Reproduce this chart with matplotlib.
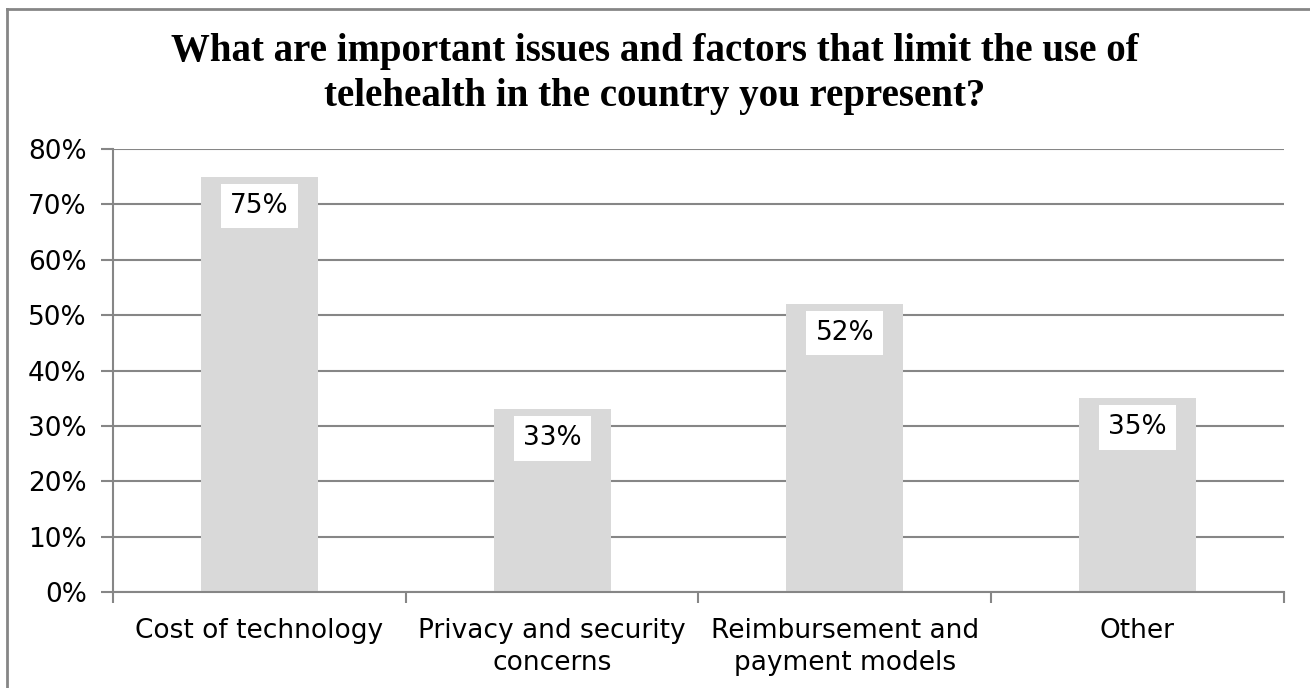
import matplotlib.pyplot as plt
import numpy as np
from matplotlib.lines import Line2D

# Chart data
categories = ["Cost of technology", "Privacy and security\nconcerns",
              "Reimbursement and\npayment models", "Other"]
values = [75, 33, 52, 35]
y_ticks = [0, 10, 20, 30, 40, 50, 60, 70, 80]
title = ("What are important issues and factors that limit the use of\n"
         "telehealth in the country you represent?")

GRID = "#868686"
BAR = "#D9D9D9"

fig = plt.figure(figsize=(13.1, 6.88), dpi=100)
ax = fig.add_axes([0.0863, 0.1395, 0.8937, 0.6439])

x = np.arange(len(categories))
bars = ax.bar(x, values, width=0.4, color=BAR, zorder=2)

ax.set_xlim(-0.5, len(categories) - 0.5)
ax.set_ylim(0, 80)
ax.set_yticks(y_ticks)
ax.set_yticklabels([f"{v}%" for v in y_ticks])
ax.yaxis.grid(True, color=GRID, linewidth=1.5, zorder=0)
ax.set_axisbelow(True)

# category labels at centers, tick marks at boundaries
ax.set_xticks(x)
ax.set_xticklabels(categories, fontsize=19, linespacing=1.3)
ax.set_xticks(np.arange(-0.5, len(categories)), minor=True)
ax.tick_params(axis="x", which="major", length=0, pad=19)
ax.tick_params(axis="x", which="minor", length=8, width=1.5, color=GRID)
ax.tick_params(axis="y", length=9, width=1.5, color=GRID, labelsize=19, pad=10)

for side in ["top", "right"]:
    ax.spines[side].set_visible(False)
for side in ["left", "bottom"]:
    ax.spines[side].set_color(GRID)
    ax.spines[side].set_linewidth(1.5)

# data labels in white boxes
for rect, v in zip(bars, values):
    ax.annotate(f"{v}%", (rect.get_x() + rect.get_width() / 2, v),
                xytext=(0, -21), textcoords="offset points",
                ha="center", va="center", fontsize=19, zorder=3,
                bbox=dict(boxstyle="square,pad=0.35", fc="white", ec="none"))

fig.text(0.5, 0.8926, title, ha="center", va="center", fontsize=28,
         fontweight="bold", family="Liberation Serif", linespacing=1.3)

# outer border (only left and top fall inside the image)
fig.add_artist(Line2D([0.0057, 0.0057], [0, 0.987], transform=fig.transFigure,
                      color=GRID, linewidth=2))
fig.add_artist(Line2D([0.0057, 1], [0.987, 0.987], transform=fig.transFigure,
                      color=GRID, linewidth=2))

fig.savefig("out.png", dpi=100)
